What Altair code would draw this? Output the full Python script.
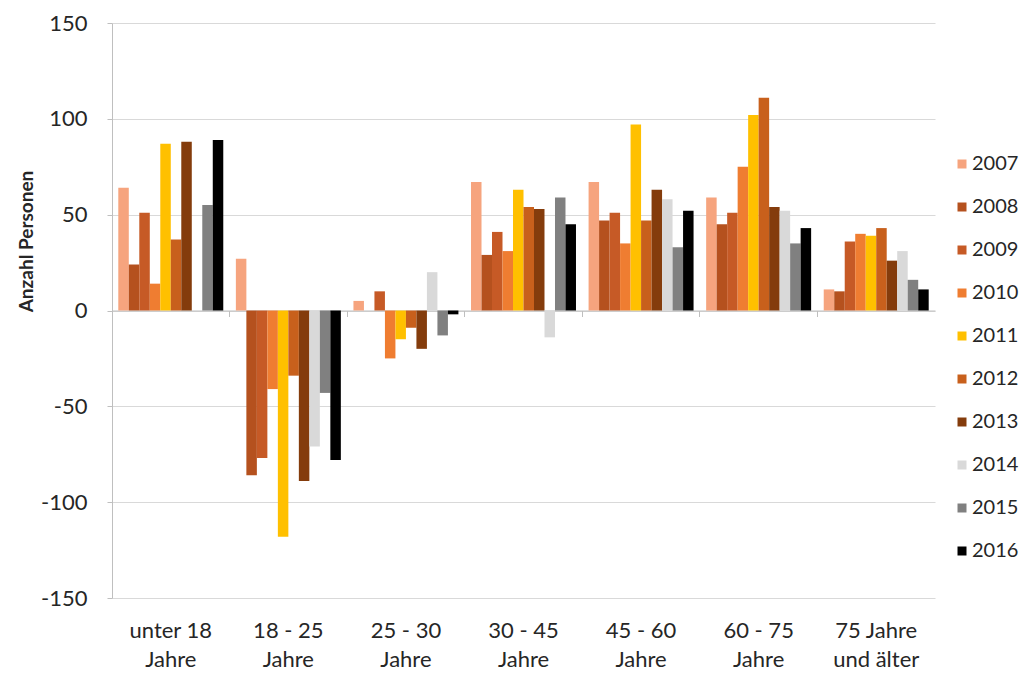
import altair as alt
import pandas as pd

# Age groups (line break marked with "|") and reporting years
categories = [
    "unter 18|Jahre",
    "18 - 25|Jahre",
    "25 - 30|Jahre",
    "30 - 45|Jahre",
    "45 - 60|Jahre",
    "60 - 75|Jahre",
    "75 Jahre|und älter",
]
years = ["2007", "2008", "2009", "2010", "2011", "2012", "2013", "2014", "2015", "2016"]

# Net change in persons per age group, one list per year
v2007 = [64, 27, 5, 67, 67, 59, 11]
v2008 = [24, -86, 0, 29, 47, 45, 10]
v2009 = [51, -77, 10, 41, 51, 51, 36]
v2010 = [14, -41, -25, 31, 35, 75, 40]
v2011 = [87, -118, -15, 63, 97, 102, 39]
v2012 = [37, -34, -9, 54, 47, 111, 43]
v2013 = [88, -89, -20, 53, 63, 54, 26]
v2014 = [0, -71, 20, -14, 58, 52, 31]
v2015 = [55, -43, -13, 59, 33, 35, 16]
v2016 = [89, -78, -2, 45, 52, 43, 11]

series = [v2007, v2008, v2009, v2010, v2011, v2012, v2013, v2014, v2015, v2016]
year_colors = ["#F6A47E", "#B5511E", "#C65A26", "#EF7D31", "#FFC000",
               "#C8601C", "#843C0C", "#D9D9D9", "#808080", "#000000"]

rows = []
for year, values in zip(years, series):
    for cat, val in zip(categories, values):
        rows.append({"Altersgruppe": cat, "Jahr": year, "Wert": val})
df = pd.DataFrame(rows)

FONT = "Lato"
TEXT = "#262626"
GRID = "#D9D9D9"
AXIS = "#BFBFBF"

bars = alt.Chart(df).mark_bar().encode(
    x=alt.X(
        "Altersgruppe:N",
        sort=categories,
        scale=alt.Scale(paddingInner=0, paddingOuter=0),
        axis=alt.Axis(
            orient="bottom", title=None, labelAngle=0, ticks=False, domain=False,
            labelExpr="split(datum.value, '|')", labelFont=FONT, labelFontSize=22,
            labelColor=TEXT, labelLineHeight=29, labelPadding=22, labelBaseline="top",
        ),
    ),
    xOffset=alt.XOffset(
        "Jahr:N", sort=years, scale=alt.Scale(paddingInner=0, paddingOuter=0.6)
    ),
    y=alt.Y(
        "Wert:Q",
        scale=alt.Scale(domain=[-150, 150], nice=False),
        axis=alt.Axis(
            values=[-150, -100, -50, 0, 50, 100, 150], grid=True, gridColor=GRID,
            domain=True, domainColor=AXIS, ticks=True, tickColor=AXIS, tickSize=5,
            labelExpr="'' + datum.value",
            labelFont=FONT, labelFontSize=22, labelColor=TEXT, labelPadding=20,
            title="Anzahl Personen", titleFont=FONT, titleFontSize=19,
            titleFontWeight="bold", titleColor=TEXT, titleAngle=270,
            titleX=-86, titleY=218, titleAlign="center", titleBaseline="middle",
        ),
    ),
    color=alt.Color(
        "Jahr:N",
        sort=years,
        scale=alt.Scale(domain=years, range=year_colors),
        legend=alt.Legend(
            title=None, orient="none", legendX=840, legendY=131, direction="vertical",
            padding=0, symbolType="square", symbolSize=81, symbolStrokeWidth=0,
            labelFont=FONT, labelFontSize=20, labelColor=TEXT, labelOffset=0,
            rowPadding=23,
        ),
    ),
)

# Category axis line through zero, with tick marks between age groups
zero_axis = alt.Chart(pd.DataFrame({"Altersgruppe": categories})).mark_rule(
    opacity=0
).encode(
    x=alt.X(
        "Altersgruppe:N",
        sort=categories,
        axis=alt.Axis(
            orient="bottom", offset=-287.5, labels=False, title=None, grid=False,
            domain=True, domainColor=AXIS, ticks=True, tickColor=AXIS, tickSize=6,
            bandPosition=0,
        ),
    ),
    y=alt.datum(0),
)

chart = (
    alt.layer(bars, zero_axis)
    .resolve_axis(x="independent")
    .properties(
        width=823,
        height=575,
        autosize=alt.AutoSizeParams(type="none"),
        padding={"left": 112, "top": 23, "right": 93, "bottom": 75},
        background="white",
    )
    .configure_view(stroke=None)
)

chart.save("out.html", embed_options={"renderer": "svg", "actions": False})
